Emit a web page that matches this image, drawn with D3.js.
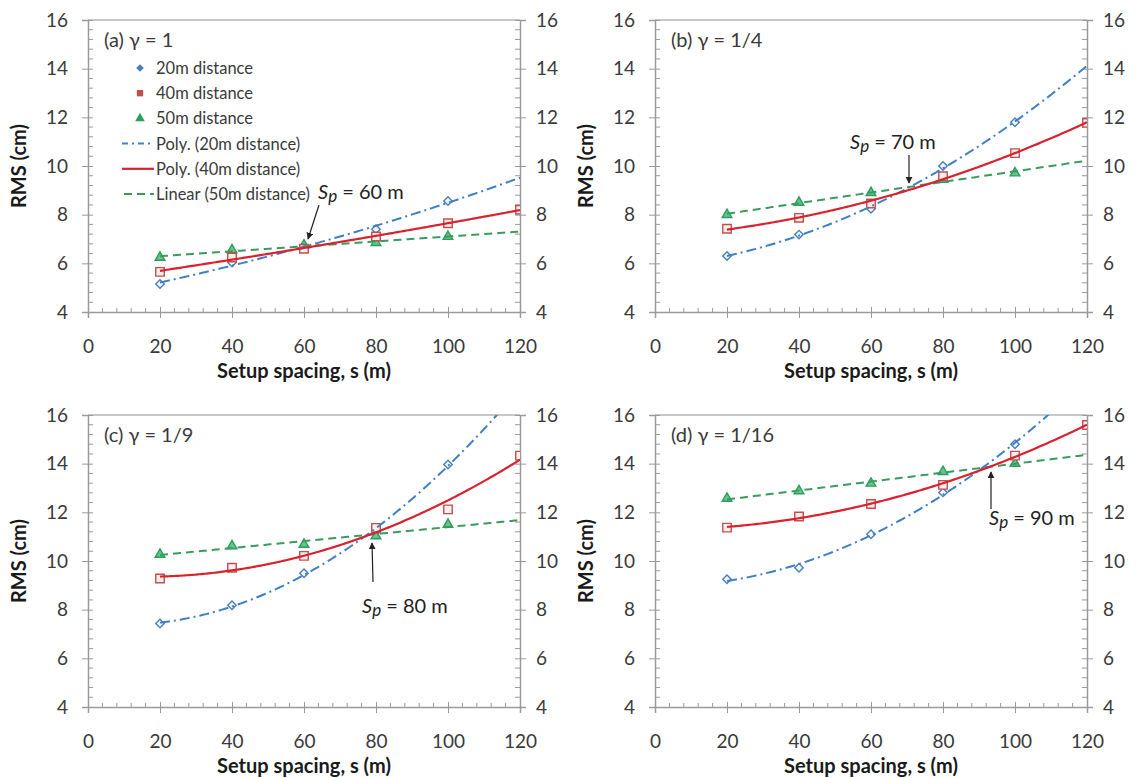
<!DOCTYPE html>
<html>
<head>
<meta charset="utf-8">
<script src="https://cdn.jsdelivr.net/npm/d3@7"></script>
<style>
  body { margin: 0; background: #fff; }
  svg { display: block; }
  text { font-family: Lato, "Open Sans", "DejaVu Sans", sans-serif; }
</style>
</head>
<body>
<svg id="chart" width="1138" height="778"></svg>
<script>
// Setup spacing s (m) for each measurement
const spacing = [20, 40, 60, 80, 100, 120];
const xTickValues = [0, 20, 40, 60, 80, 100, 120];
const yTickValues = [4, 6, 8, 10, 12, 14, 16];

// RMS (cm) per panel: 20m and 50m distance measured at 20–100 m, 40m distance at 20–120 m
const rms20A = [5.15, 6.03, 6.70, 7.40, 8.56];
const rms40A = [5.65, 6.24, 6.60, 7.10, 7.65, 8.20];
const rms50A = [6.24, 6.55, 6.75, 6.85, 7.10];

const rms20B = [6.30, 7.18, 8.24, 10.00, 11.80];
const rms40B = [7.42, 7.87, 8.46, 9.58, 10.53, 11.77];
const rms50B = [8.00, 8.50, 8.90, 9.44, 9.71];

const rms20C = [7.43, 8.18, 9.50, 11.20, 13.97];
const rms40C = [9.28, 9.72, 10.21, 11.36, 12.12, 14.33];
const rms50C = [10.27, 10.62, 10.68, 11.03, 11.50];

const rms20D = [9.25, 9.72, 11.10, 12.82, 14.80];
const rms40D = [11.37, 11.83, 12.34, 13.13, 14.33, 15.59];
const rms50D = [12.57, 12.88, 13.19, 13.67, 14.01];

const panelTitles = ["(a) γ = 1", "(b) γ = 1/4", "(c) γ = 1/9", "(d) γ = 1/16"];
const crossingSpacing = ["60", "70", "80", "90"];

const legendLabels = ["20m distance", "40m distance", "50m distance",
  "Poly. (20m distance)", "Poly. (40m distance)", "Linear (50m distance)"];

const COL20 = "#4a7ebb", LINE20 = "#3f7fc6";
const COL40 = "#c0504d", LINE40 = "#d8232f";
const COL50 = "#27a05a", LINE50 = "#3b9a5e";
const AXIS = "#9a9a9a";
const TEXT = "#3a3a3a";

const svg = d3.select("#chart");
const defs = svg.append("defs");
defs.append("marker")
  .attr("id", "arrowhead")
  .attr("viewBox", "0 0 10 10")
  .attr("refX", 9).attr("refY", 5)
  .attr("markerWidth", 7).attr("markerHeight", 7)
  .attr("markerUnits", "userSpaceOnUse")
  .attr("orient", "auto")
  .append("path").attr("d", "M0,0 L10,5 L0,10 z").attr("fill", "#222");

// Least-squares polynomial fit (degree 1 or 2), as a spreadsheet trendline does
function polyFit(xs, ys, degree) {
  const n = degree + 1;
  const A = Array.from({length: n}, () => new Array(n + 1).fill(0));
  xs.forEach((x, k) => {
    for (let i = 0; i < n; i++) {
      for (let j = 0; j < n; j++) A[i][j] += Math.pow(x, i + j);
      A[i][n] += ys[k] * Math.pow(x, i);
    }
  });
  for (let i = 0; i < n; i++) {
    let p = i;
    for (let r = i + 1; r < n; r++) if (Math.abs(A[r][i]) > Math.abs(A[p][i])) p = r;
    [A[i], A[p]] = [A[p], A[i]];
    for (let r = 0; r < n; r++) {
      if (r === i) continue;
      const f = A[r][i] / A[i][i];
      for (let c = i; c <= n; c++) A[r][c] -= f * A[i][c];
    }
  }
  const coef = A.map((row, i) => row[n] / row[i]);
  return x => coef.reduce((s, c, i) => s + c * Math.pow(x, i), 0);
}

const panels = [
  {id: "a", left: 88, top: 20, r20: rms20A, r40: rms40A, r50: rms50A,
   note: {tx: 318, ty: 199, x1: 319, y1: 205, x2: 308, y2: 239}},
  {id: "b", left: 655, top: 20, r20: rms20B, r40: rms40B, r50: rms50B,
   note: {tx: 850, ty: 149, x1: 909, y1: 155, x2: 909, y2: 183}},
  {id: "c", left: 88, top: 415, r20: rms20C, r40: rms40C, r50: rms50C,
   note: {tx: 362, ty: 613, x1: 373, y1: 582, x2: 372, y2: 543}},
  {id: "d", left: 655, top: 415, r20: rms20D, r40: rms40D, r50: rms50D,
   note: {tx: 989, ty: 525, x1: 991, y1: 509, x2: 991, y2: 472}}
];

const W = 432, H = 292;
const TICK_FONT = 19, TITLE_FONT = 20;

panels.forEach((p, idx) => {
  const g = svg.append("g").attr("transform", `translate(${p.left},${p.top})`);
  const x = d3.scaleLinear().domain([0, 120]).range([0, W]);
  const y = d3.scaleLinear().domain([4, 16]).range([H, 0]);

  defs.append("clipPath").attr("id", "clip-" + p.id)
    .append("rect").attr("x", 0).attr("y", 0).attr("width", W).attr("height", H);

  // top border of the plot area
  g.append("line").attr("x1", 0).attr("x2", W).attr("y1", 0).attr("y2", 0)
    .attr("stroke", "#b5b5b5").attr("stroke-width", 1.5);

  // minor ticks
  const yMinor = d3.range(4, 16.001, 0.4).filter(v => Math.abs(v / 2 - Math.round(v / 2)) > 1e-6);
  const xMinor = d3.range(0, 120.001, 4).filter(v => v % 20 !== 0);
  g.selectAll(".ymin-l").data(yMinor).join("line")
    .attr("x1", 0).attr("x2", 5).attr("y1", d => y(d)).attr("y2", d => y(d))
    .attr("stroke", AXIS).attr("stroke-width", 1);
  g.selectAll(".ymin-r").data(yMinor).join("line")
    .attr("x1", W - 5).attr("x2", W).attr("y1", d => y(d)).attr("y2", d => y(d))
    .attr("stroke", AXIS).attr("stroke-width", 1);
  g.selectAll(".xmin").data(xMinor).join("line")
    .attr("x1", d => x(d)).attr("x2", d => x(d)).attr("y1", H).attr("y2", H - 4)
    .attr("stroke", AXIS).attr("stroke-width", 1);

  // left axis
  const leftAxis = g.append("g").call(d3.axisLeft(y).tickValues(yTickValues).tickSize(6).tickPadding(14));
  leftAxis.select(".domain").attr("stroke", AXIS).attr("stroke-width", 1.5);
  leftAxis.selectAll(".tick line").attr("stroke", AXIS).attr("x2", -6).attr("x1", 5);
  leftAxis.selectAll("text").attr("font-size", TICK_FONT).attr("fill", TEXT)
    .style("font-family", "Lato, sans-serif");

  // right axis
  const rightAxis = g.append("g").attr("transform", `translate(${W},0)`)
    .call(d3.axisRight(y).tickValues(yTickValues).tickSize(6).tickPadding(10));
  rightAxis.select(".domain").attr("stroke", AXIS).attr("stroke-width", 1.5);
  rightAxis.selectAll(".tick line").attr("stroke", AXIS).attr("x1", -5).attr("x2", 6);
  rightAxis.selectAll("text").attr("font-size", TICK_FONT).attr("fill", TEXT)
    .style("font-family", "Lato, sans-serif");

  // bottom axis
  const bottomAxis = g.append("g").attr("transform", `translate(0,${H})`)
    .call(d3.axisBottom(x).tickValues(xTickValues).tickSize(6).tickPadding(22));
  bottomAxis.select(".domain").attr("stroke", AXIS).attr("stroke-width", 1.5);
  bottomAxis.selectAll(".tick line").attr("stroke", AXIS).attr("y1", -5).attr("y2", 6);
  bottomAxis.selectAll("text").attr("font-size", TICK_FONT).attr("fill", TEXT)
    .style("font-family", "Lato, sans-serif");

  // axis titles
  g.append("text").attr("x", W / 2).attr("y", H + 66)
    .attr("text-anchor", "middle").attr("font-size", TITLE_FONT).attr("font-weight", 700)
    .attr("fill", "#1a1a1a").text("Setup spacing, s (m)");
  g.append("text").attr("transform", `translate(-62,${H / 2}) rotate(-90)`)
    .attr("text-anchor", "middle").attr("font-size", TITLE_FONT).attr("font-weight", 700)
    .attr("fill", "#1a1a1a").text("RMS (cm)");

  // panel title
  g.append("text").attr("x", 16).attr("y", 27).attr("font-size", 20).attr("fill", TEXT)
    .text(panelTitles[idx]);

  // data and fits
  const s20 = spacing.slice(0, p.r20.length);
  const s50 = spacing.slice(0, p.r50.length);
  const f20 = polyFit(s20, p.r20, 2);
  const f40 = polyFit(spacing, p.r40, 2);
  const f50 = polyFit(s50, p.r50, 1);
  const xs = d3.range(20, 120.001, 0.5);
  const line = fn => d3.line().x(d => x(d)).y(d => y(fn(d)))(xs);

  const plot = g.append("g").attr("clip-path", `url(#clip-${p.id})`);

  // markers
  const sym = (type, size) => d3.symbol().type(type).size(size)();
  plot.selectAll(".m20").data(s20.map((s, i) => [s, p.r20[i]])).join("path")
    .attr("transform", d => `translate(${x(d[0])},${y(d[1])}) rotate(45)`)
    .attr("d", sym(d3.symbolSquare, 36))
    .attr("fill", "#f2f6fc").attr("stroke", COL20).attr("stroke-width", 1.4);
  plot.selectAll(".m50").data(s50.map((s, i) => [s, p.r50[i]])).join("path")
    .attr("transform", d => `translate(${x(d[0])},${y(d[1])})`)
    .attr("d", sym(d3.symbolTriangle, 40))
    .attr("fill", "#6cc08e").attr("stroke", COL50).attr("stroke-width", 1.4);
  plot.selectAll(".m40").data(spacing.map((s, i) => [s, p.r40[i]])).join("path")
    .attr("transform", d => `translate(${x(d[0])},${y(d[1])})`)
    .attr("d", sym(d3.symbolSquare, 72))
    .attr("fill", "#fbeeee").attr("stroke", COL40).attr("stroke-width", 1.4);

  // trendlines
  plot.append("path").attr("d", line(f50)).attr("fill", "none")
    .attr("stroke", LINE50).attr("stroke-width", 2).attr("stroke-dasharray", "8,5");
  plot.append("path").attr("d", line(f20)).attr("fill", "none")
    .attr("stroke", LINE20).attr("stroke-width", 2).attr("stroke-dasharray", "10,4,2,4");
  plot.append("path").attr("d", line(f40)).attr("fill", "none")
    .attr("stroke", LINE40).attr("stroke-width", 2.2);

  // crossing annotation
  const n = p.note;
  const ann = svg.append("text").attr("x", n.tx).attr("y", n.ty)
    .attr("font-size", 20).attr("fill", "#222");
  ann.append("tspan").attr("font-style", "italic").text("S");
  ann.append("tspan").attr("font-style", "italic").attr("dy", 3).attr("font-size", 17).text("p");
  ann.append("tspan").attr("dy", -3).text(` = ${crossingSpacing[idx]} m`);
  svg.append("line").attr("x1", n.x1).attr("y1", n.y1).attr("x2", n.x2).attr("y2", n.y2)
    .attr("stroke", "#222").attr("stroke-width", 1.2).attr("marker-end", "url(#arrowhead)");

  // legend in the first panel
  if (idx === 0) {
    const lg = g.append("g");
    const rowY = i => 48 + i * 25.2;
    const lx0 = 34, lx1 = 66, mx = 52, tx = 68;
    lg.append("path").attr("transform", `translate(${mx},${rowY(0)}) rotate(45)`)
      .attr("d", sym(d3.symbolSquare, 30)).attr("fill", COL20);
    lg.append("path").attr("transform", `translate(${mx},${rowY(1)})`)
      .attr("d", sym(d3.symbolSquare, 40)).attr("fill", COL40);
    lg.append("path").attr("transform", `translate(${mx},${rowY(2)})`)
      .attr("d", sym(d3.symbolTriangle, 40)).attr("fill", COL50);
    lg.append("line").attr("x1", lx0).attr("x2", lx1).attr("y1", rowY(3)).attr("y2", rowY(3))
      .attr("stroke", LINE20).attr("stroke-width", 2).attr("stroke-dasharray", "6,4,2,4");
    lg.append("line").attr("x1", lx0).attr("x2", lx1).attr("y1", rowY(4)).attr("y2", rowY(4))
      .attr("stroke", LINE40).attr("stroke-width", 2.2);
    lg.append("line").attr("x1", lx0 + 2).attr("x2", lx1).attr("y1", rowY(5)).attr("y2", rowY(5))
      .attr("stroke", LINE50).attr("stroke-width", 2).attr("stroke-dasharray", "8,5");
    legendLabels.forEach((t, i) => {
      lg.append("text").attr("x", tx).attr("y", rowY(i) + 6)
        .attr("font-size", 16.5).attr("fill", TEXT).text(t);
    });
  }
});
</script>
</body>
</html>
